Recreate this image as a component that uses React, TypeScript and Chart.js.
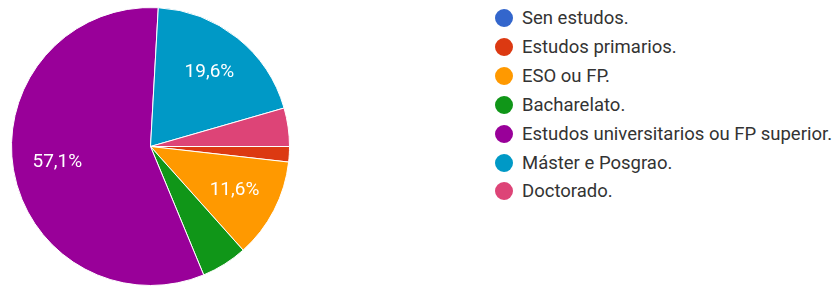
import React, { useEffect, useRef } from "react";
import { Chart, registerables } from "chart.js";

Chart.register(...registerables);

const categories = [
  "Sen estudos.",
  "Estudos primarios.",
  "ESO ou FP.",
  "Bacharelato.",
  "Estudos universitarios ou FP superior.",
  "Máster e Posgrao.",
  "Doctorado.",
];
const counts = [0, 2, 13, 6, 64, 22, 5];
const colors = ["#3366cc", "#dc3912", "#ff9900", "#109618", "#990099", "#0099c6", "#dd4477"];
const labelThreshold = 0.1;

const sliceLabels = {
  id: "sliceLabels",
  afterDatasetsDraw(chart: any) {
    const ctx = chart.ctx;
    const meta = chart.getDatasetMeta(0);
    const data = chart.data.datasets[0].data as number[];
    const total = data.reduce((a, b) => a + b, 0);
    ctx.save();
    ctx.fillStyle = "#ffffff";
    ctx.font = "19px Roboto, Arial, sans-serif";
    ctx.textAlign = "center";
    ctx.textBaseline = "middle";
    meta.data.forEach((arc: any, i: number) => {
      const frac = data[i] / total;
      if (frac < labelThreshold) return;
      const { x, y, startAngle, endAngle, outerRadius } = arc.getProps(
        ["x", "y", "startAngle", "endAngle", "outerRadius"],
        true
      );
      const mid = (startAngle + endAngle) / 2;
      const r = outerRadius * 0.68;
      const txt = (frac * 100).toFixed(1).replace(".", ",") + "%";
      ctx.fillText(txt, x + Math.cos(mid) * r, y + Math.sin(mid) * r);
    });
    ctx.restore();
  },
};

export default function App() {
  const ref = useRef<HTMLCanvasElement>(null);
  useEffect(() => {
    const chart = new Chart(ref.current!, {
      type: "pie",
      data: {
        labels: categories,
        datasets: [
          {
            data: counts,
            backgroundColor: colors,
            borderColor: "#ffffff",
            borderWidth: 1,
          },
        ],
      },
      options: {
        animation: false,
        responsive: false,
        rotation: 90,
        layout: { padding: 0 },
        plugins: { legend: { display: false }, tooltip: { enabled: false } },
      },
      plugins: [sliceLabels],
    });
    return () => chart.destroy();
  }, []);

  return (
    <div style={{ position: "fixed", left: 0, top: 0, width: 839, height: 286, background: "#fff" }}>
      <div style={{ position: "absolute", left: 11, top: 7, width: 279, height: 279 }}>
        <canvas ref={ref} width={279} height={279} />
      </div>
      {categories.map((c, i) => (
        <div
          key={c}
          style={{
            position: "absolute",
            left: 495,
            top: 18 + i * 28.9 - 11,
            height: 22,
            display: "flex",
            alignItems: "center",
            fontFamily: "Roboto, Arial, sans-serif",
            fontSize: 18.5,
            color: "#333333",
            whiteSpace: "nowrap",
          }}
        >
          <span
            style={{
              display: "inline-block",
              width: 18,
              height: 18,
              borderRadius: 9,
              background: colors[i],
              marginRight: 9,
              flexShrink: 0,
            }}
          />
          <span>{c}</span>
        </div>
      ))}
    </div>
  );
}
